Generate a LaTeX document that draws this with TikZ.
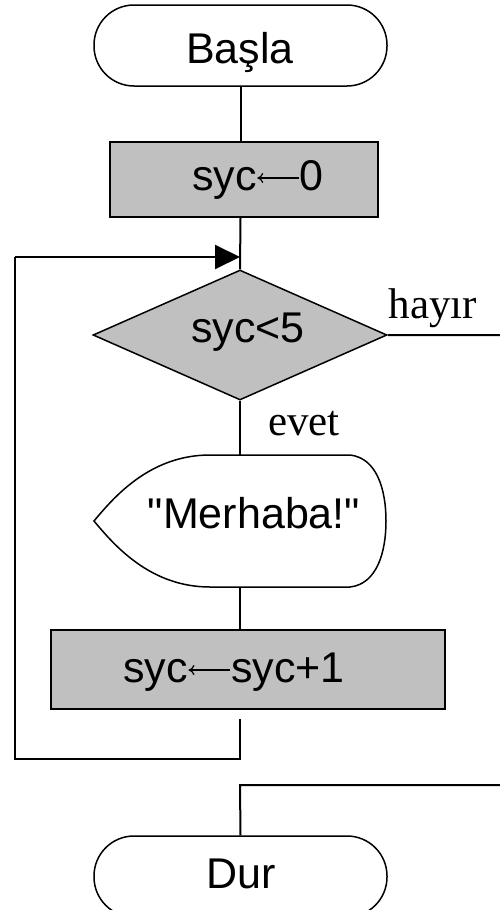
\documentclass[tikz,border=0pt]{standalone}
\usepackage{fontspec}
\setmainfont{Liberation Sans}
\newfontfamily\serifl{Liberation Serif}
\newfontfamily\plainsans{Liberation Sans}
\usetikzlibrary{shapes.geometric,arrows.meta}
\definecolor{boxgray}{HTML}{C0C0C0}
\newcommand{\asg}{\tikz[baseline=0pt]\draw[line width=1.2pt,{To[length=6pt,width=10pt]}-] (0pt,12pt) -- (42pt,12pt);}
\begin{document}
\begin{tikzpicture}[x=1pt,y=-1pt,
  font=\fontsize{43}{50}\selectfont,
  term/.style={draw,line width=1.5pt,rounded corners=40pt,minimum width=293pt,minimum height=81pt,inner sep=0pt},
  proc/.style={draw,line width=2pt,fill=boxgray,inner sep=0pt},
  decis/.style={diamond,draw,line width=1.5pt,fill=boxgray,inner sep=0pt,shape aspect=2.26,minimum width=294pt,minimum height=130pt},
  txt/.style={inner sep=0pt,anchor=base},
  lbl/.style={inner sep=0pt,anchor=base,font=\serifl\fontsize{43}{50}\selectfont},
  conn/.style={line width=2pt},
]
\useasboundingbox (0,0) rectangle (500,910);
\clip (0,0) rectangle (500,910);

% shapes
\node[term] (start) at (240.5,45.5) {};
\node[proc,minimum width=268pt,minimum height=75pt] (init) at (244,179.5) {};
\node[decis] (dec) at (240,335) {};
\node[inner sep=0pt,minimum width=292pt,minimum height=132pt] (out) at (240,521) {};
\draw[line width=1.5pt] (210,455) -- (350,455)
  .. controls (377,458) and (386,490) .. (386,521)
  .. controls (386,552) and (377,584) .. (350,587)
  -- (210,587)
  .. controls (150,587) and (114,545) .. (94,521)
  .. controls (114,497) and (150,455) .. (210,455) -- cycle;
\node[proc,minimum width=394pt,minimum height=79pt] (inc) at (248,669.5) {};
\node[term] (stop) at (240.5,876.5) {};

% texts
\node[txt] (tStart) at (240,63) {Başla};
\node[txt] (tInit) at (258,190) {syc\asg0};
\node[txt] (tDec) at (248,342) {syc<5};
\node[txt] (tOut) at (254,528) {\plainsans "Merhaba!"};
\node[txt] (tInc) at (234,682) {syc\asg syc+1};
\node[txt] (tStop) at (241,888) {Dur};
\node[lbl] (lNo) at (433,318) {hayır};
\node[lbl] (lYes) at (304,435) {evet};

% coordinates
\coordinate (lb) at (15,759);
\coordinate (lt) at (15,257);
\coordinate (join) at (240,257);
\coordinate (r1) at (530,335);
\coordinate (r2) at (530,785);
\coordinate (r3) at (240,785);

% connectors
\draw[conn] (start.south) -- (start.south |- init.north);
\draw[conn] (start.south |- init.south) -- (dec.north);
\draw[conn] (dec.south) -- (out.north);
\draw[conn] (out.south) -- (out.south |- inc.north);
\draw[conn,shorten <=9pt] (out.south |- inc.south) -- (join |- lb) -- (lb) -- (lt);
\draw[conn,-{Triangle[length=25pt,width=24pt]}] (lt) -- (join);
\draw[conn] (dec.east) -- (r1) -- (r2) -- (r3) -- (stop.north);
\end{tikzpicture}
\end{document}
